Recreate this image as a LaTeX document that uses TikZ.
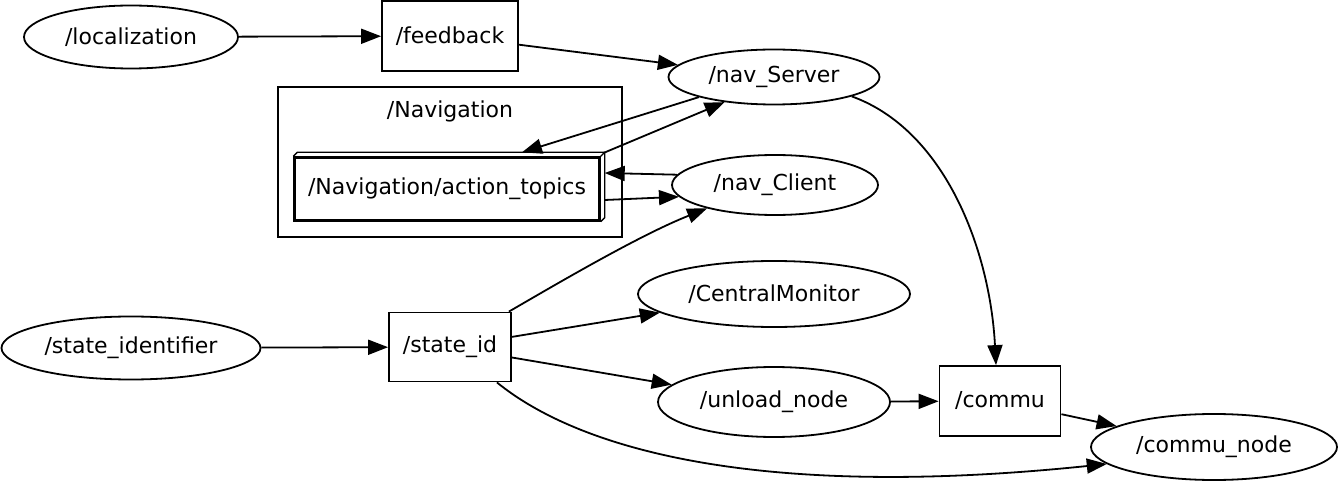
\documentclass[tikz,border=0pt]{standalone}
\usepackage{fontspec}
\setmainfont{DejaVu Sans}
\usetikzlibrary{arrows.meta, shapes.geometric, calc}

\tikzset{
	rosnode/.style={ellipse, draw, line width=1.8pt, inner sep=0pt},
	rostopic/.style={rectangle, draw, line width=1.8pt, inner sep=0pt},
	edge/.style={line width=1.8pt, -{Triangle[length=20pt,width=15pt]}},
}

\begin{document}
\begin{tikzpicture}[x=1pt, y=-1pt, font=\fontsize{22}{26}\selectfont]
	\useasboundingbox (0,0) rectangle (1339,497);
	
	% namespace box
	\draw[line width=1.8pt] (278,87) rectangle (622,237);
	\node (navlabel) at (450,111) {/Navigation};
	
	\node[rosnode, minimum width=214pt, minimum height=63pt] (localization) at (131,37) {/localization};
	\node[rostopic, minimum width=136pt, minimum height=70pt] (feedback) at (450,36) {/feedback};
	\node[rosnode, minimum width=211pt, minimum height=55pt] (navserver) at (774,77) {/nav\_Server};
	\node[rostopic, line width=2.4pt, minimum width=305pt, minimum height=63pt] (actiontopics) at (447,189) {/Navigation/action\_topics};
	\node[rosnode, minimum width=206pt, minimum height=60pt] (navclient) at (775,185) {/nav\_Client};
	\node[rosnode, minimum width=272pt, minimum height=66pt] (centralmonitor) at (774,294) {/CentralMonitor};
	\node[rosnode, minimum width=259pt, minimum height=63pt] (stateidentifier) at (131,348) {/state\_identifier};
	\node[rostopic, minimum width=122pt, minimum height=69pt] (stateid) at (450,347) {/state\_id};
	\node[rosnode, minimum width=232pt, minimum height=70pt] (unloadnode) at (774,402) {/unload\_node};
	\node[rostopic, minimum width=121pt, minimum height=70pt] (commu) at (1000,401) {/commu};
	\node[rosnode, minimum width=246pt, minimum height=66pt] (communode) at (1214,447) {/commu\_node};
	
	% 3d faces of the action box
	\draw[line width=1.4pt] (actiontopics.north west) -- ++(4,-4) -- ($(actiontopics.north east)+(4,-4)$) -- ($(actiontopics.south east)+(4,-4)$) -- (actiontopics.south east);
	\draw[line width=1.4pt] (actiontopics.north east) -- ++(4,-4);
	
	\draw[edge] (localization) -- (feedback);
	\draw[edge] (feedback) -- (navserver);
	\draw[edge] (navserver.195) -- ([xshift=75pt,yshift=4pt]actiontopics.north);
	\draw[edge] ($(actiontopics.north east)+(2,-3)$) -- (navserver.207);
	\draw[edge] (navclient.174) -- ([xshift=4pt,yshift=16pt]actiontopics.east);
	\draw[edge] ([xshift=4pt,yshift=-11pt]actiontopics.east) -- (navclient.187);
	\draw[edge] ([xshift=-3pt]stateid.north east) .. controls (560,282) and (640,235) .. (navclient.199);
	\draw[edge] (stateid) -- (centralmonitor);
	\draw[edge] (stateid) -- (unloadnode);
	\draw[edge] ([xshift=-15pt]stateid.south east) .. controls (580,450) and (760,500) .. (communode.189);
	\draw[edge] (unloadnode) -- (commu);
	\draw[edge] (commu) -- (communode);
	\draw[edge] (navserver.-14) .. controls (945,130) and (990,250) .. ([xshift=-4pt]commu.north);
	\draw[edge] (stateidentifier) -- (stateid);
\end{tikzpicture}
\end{document}
